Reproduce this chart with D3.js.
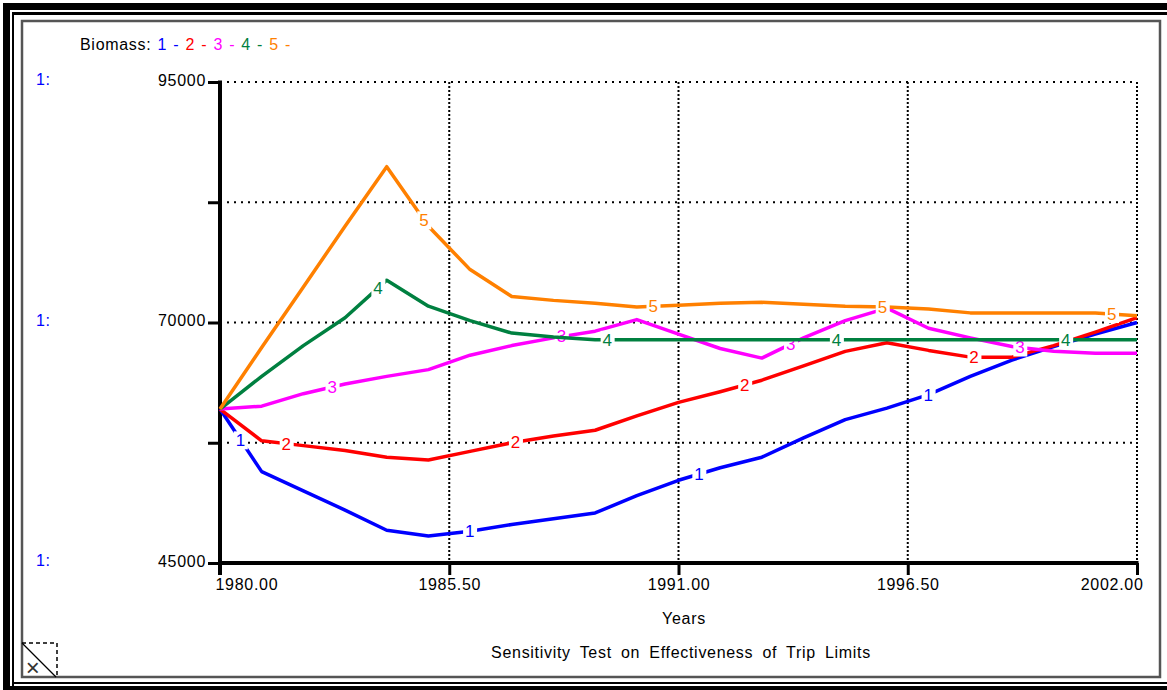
<!DOCTYPE html>
<html>
<head>
<meta charset="utf-8">
<script src="https://cdn.jsdelivr.net/npm/d3@7"></script>
<style>
  body { margin: 0; background: #fff; }
  svg { display: block; font-family: "Liberation Sans", Arial, sans-serif; }
  svg text { letter-spacing: 0.7px; word-spacing: 3px; }
</style>
</head>
<body>
<div id="chart"></div>
<script>
// data
const years = [1980, 1981, 1982, 1983, 1984, 1985, 1986, 1987, 1988, 1989, 1990, 1991,
  1992, 1993, 1994, 1995, 1996, 1997, 1998, 1999, 2000, 2001, 2002];
const run1 = [61000, 54500, 52500, 50500, 48400, 47800, 48300, 49000, 49600, 50200, 52000, 53600,
  54900, 56000, 58000, 59900, 61100, 62500, 64400, 66100, 67500, 68800, 70000];
const run2 = [61000, 57700, 57200, 56700, 56000, 55700, 56600, 57500, 58200, 58800, 60300, 61700,
  62800, 64000, 65500, 67000, 67900, 67100, 66400, 66400, 67600, 69000, 70500];
const run3 = [61000, 61300, 62600, 63600, 64400, 65100, 66600, 67600, 68400, 69100, 70300, 68800,
  67300, 66300, 68400, 70200, 71500, 69400, 68400, 67500, 67000, 66800, 66800];
const run4 = [61000, 64400, 67600, 70500, 74400, 71700, 70200, 68900, 68500, 68200, 68200, 68200,
  68200, 68200, 68200, 68200, 68200, 68200, 68200, 68200, 68200, 68200, 68200];
const run5 = [61000, 67400, 73700, 80000, 86200, 80000, 75500, 72700, 72300, 72000, 71600, 71800,
  72000, 72100, 71900, 71700, 71600, 71400, 71000, 71000, 71000, 71000, 70700];
const runNames = ["1", "2", "3", "4", "5"];
const runColors = ["#0000ff", "#ff0000", "#ff00ff", "#008040", "#ff8000"];
const yTicks = [45000, 57500, 70000, 82500, 95000];
const yLabels = [45000, 70000, 95000];
const xTicks = [1980, 1985.5, 1991, 1996.5, 2002];

const W = 1167, H = 690;
const FS = 16;
const svg = d3.select("#chart").append("svg")
  .attr("width", W).attr("height", H);

// outer frame
svg.append("rect").attr("x", 3).attr("y", 3).attr("width", W - 3).attr("height", 7).attr("fill", "#000");
svg.append("rect").attr("x", 3).attr("y", 3).attr("width", 7).attr("height", H - 3).attr("fill", "#000");
svg.append("rect").attr("x", 12).attr("y", 12).attr("width", W - 12).attr("height", 3).attr("fill", "#000");
svg.append("rect").attr("x", 12).attr("y", 12).attr("width", 2).attr("height", H - 12).attr("fill", "#000");
svg.append("rect").attr("x", 12).attr("y", 682).attr("width", W - 12).attr("height", 2).attr("fill", "#000");
svg.append("rect").attr("x", 3).attr("y", 686).attr("width", W - 3).attr("height", 4).attr("fill", "#000");
svg.append("rect").attr("x", 22).attr("y", 21).attr("width", 1138).attr("height", 656)
  .attr("fill", "#fff").attr("stroke", "#555").attr("stroke-width", 2.5);

const x = d3.scaleLinear().domain([1980, 2002]).range([220, 1137]);
const y = d3.scaleLinear().domain([45000, 95000]).range([563, 82]);

// grid
const grid = svg.append("g");
grid.selectAll(".hg").data(yTicks.slice(1)).enter().append("line")
  .attr("x1", x(1980)).attr("x2", x(2002))
  .attr("y1", d => y(d)).attr("y2", d => y(d))
  .attr("stroke", "#000").attr("stroke-width", 2).attr("stroke-dasharray", "2,5");
grid.selectAll(".vg").data(xTicks.slice(1)).enter().append("line")
  .attr("x1", d => x(d)).attr("x2", d => x(d))
  .attr("y1", y(95000)).attr("y2", y(45000))
  .attr("stroke", "#000").attr("stroke-width", 2).attr("stroke-dasharray", "2,2");

// axes
const yAxis = svg.append("g")
  .attr("transform", `translate(${x(1980)},0)`)
  .call(d3.axisLeft(y).tickValues(yTicks).tickSize(12).tickPadding(2)
    .tickFormat(d => yLabels.includes(d) ? d : ""));
const xAxis = svg.append("g")
  .attr("transform", `translate(0,${y(45000)})`)
  .call(d3.axisBottom(x).tickValues(xTicks).tickSize(12).tickPadding(3)
    .tickFormat(d3.format(".2f")));
[yAxis, xAxis].forEach(g => {
  g.select(".domain").remove();
  g.selectAll(".tick line").attr("stroke", "#000").attr("stroke-width", 3);
  g.selectAll("text").attr("fill", "#000").attr("font-size", FS);
});
yAxis.selectAll(".tick text").attr("dy", "0.2em");
xAxis.selectAll(".tick text").attr("dy", "0.75em");
xAxis.selectAll(".tick text").filter(d => d === 1980).attr("text-anchor", "start").attr("dx", -5);
xAxis.selectAll(".tick text").filter(d => d === 2002).attr("text-anchor", "end").attr("dx", 6);
svg.append("line").attr("x1", x(1980)).attr("x2", x(1980))
  .attr("y1", y(95000) - 1.5).attr("y2", y(45000) + 12)
  .attr("stroke", "#000").attr("stroke-width", 4);
svg.append("line").attr("x1", x(1980) - 2).attr("x2", x(2002) + 1.5)
  .attr("y1", y(45000)).attr("y2", y(45000))
  .attr("stroke", "#000").attr("stroke-width", 4);

// "1:" scale markers on the far left
svg.selectAll(".scl").data(yLabels).enter().append("text")
  .attr("x", 36).attr("y", d => y(d)).attr("dy", "0.2em")
  .attr("fill", "#0000ff").attr("font-size", FS).text("1:");

// lines
const runs = [run1, run2, run3, run4, run5];
const line = d3.line().x((d, i) => x(years[i])).y(d => y(d));
runs.forEach((vals, r) => {
  const g = svg.append("g");
  g.append("path").datum(vals)
    .attr("d", line)
    .attr("fill", "none")
    .attr("stroke", runColors[r])
    .attr("stroke-width", 3.5)
    .attr("stroke-linejoin", "round");
  const labelYears = d3.range(4).map(k => 1980.5 + 1.1 * r + 5.5 * k);
  labelYears.forEach(t => {
    const v = d3.scaleLinear().domain(years).range(vals)(t);
    g.append("rect")
      .attr("x", x(t) - 7).attr("y", y(v) - 9)
      .attr("width", 14).attr("height", 18).attr("fill", "#fff");
    g.append("text")
      .attr("x", x(t)).attr("y", y(v)).attr("dy", "0.35em")
      .attr("text-anchor", "middle").attr("font-size", 17)
      .attr("fill", runColors[r]).text(runNames[r]);
  });
});

// legend
const leg = svg.append("text").attr("x", 80).attr("y", 50).attr("font-size", FS)
  .style("word-spacing", "1px");
leg.append("tspan").attr("fill", "#000").text("Biomass: ");
runNames.forEach((n, i) => {
  leg.append("tspan").attr("fill", runColors[i]).text(n + " - ");
});

// titles
svg.append("text").attr("x", 684).attr("y", 624).attr("text-anchor", "middle")
  .attr("font-size", FS).text("Years");
svg.append("text").attr("x", 681).attr("y", 658).attr("text-anchor", "middle")
  .attr("font-size", FS).style("word-spacing", "4px")
  .text("Sensitivity Test on Effectiveness of Trip Limits");

// corner icon
const ic = svg.append("g");
ic.append("path").attr("d", "M22,643 H57 V677")
  .attr("fill", "none").attr("stroke", "#000").attr("stroke-width", 1.5).attr("stroke-dasharray", "4,3");
ic.append("line").attr("x1", 22).attr("y1", 643).attr("x2", 56).attr("y2", 677)
  .attr("stroke", "#000").attr("stroke-width", 1.2);
ic.append("text").attr("x", 33).attr("y", 676).attr("text-anchor", "middle")
  .attr("font-size", 24).attr("fill", "#333").text("×");
</script>
</body>
</html>
